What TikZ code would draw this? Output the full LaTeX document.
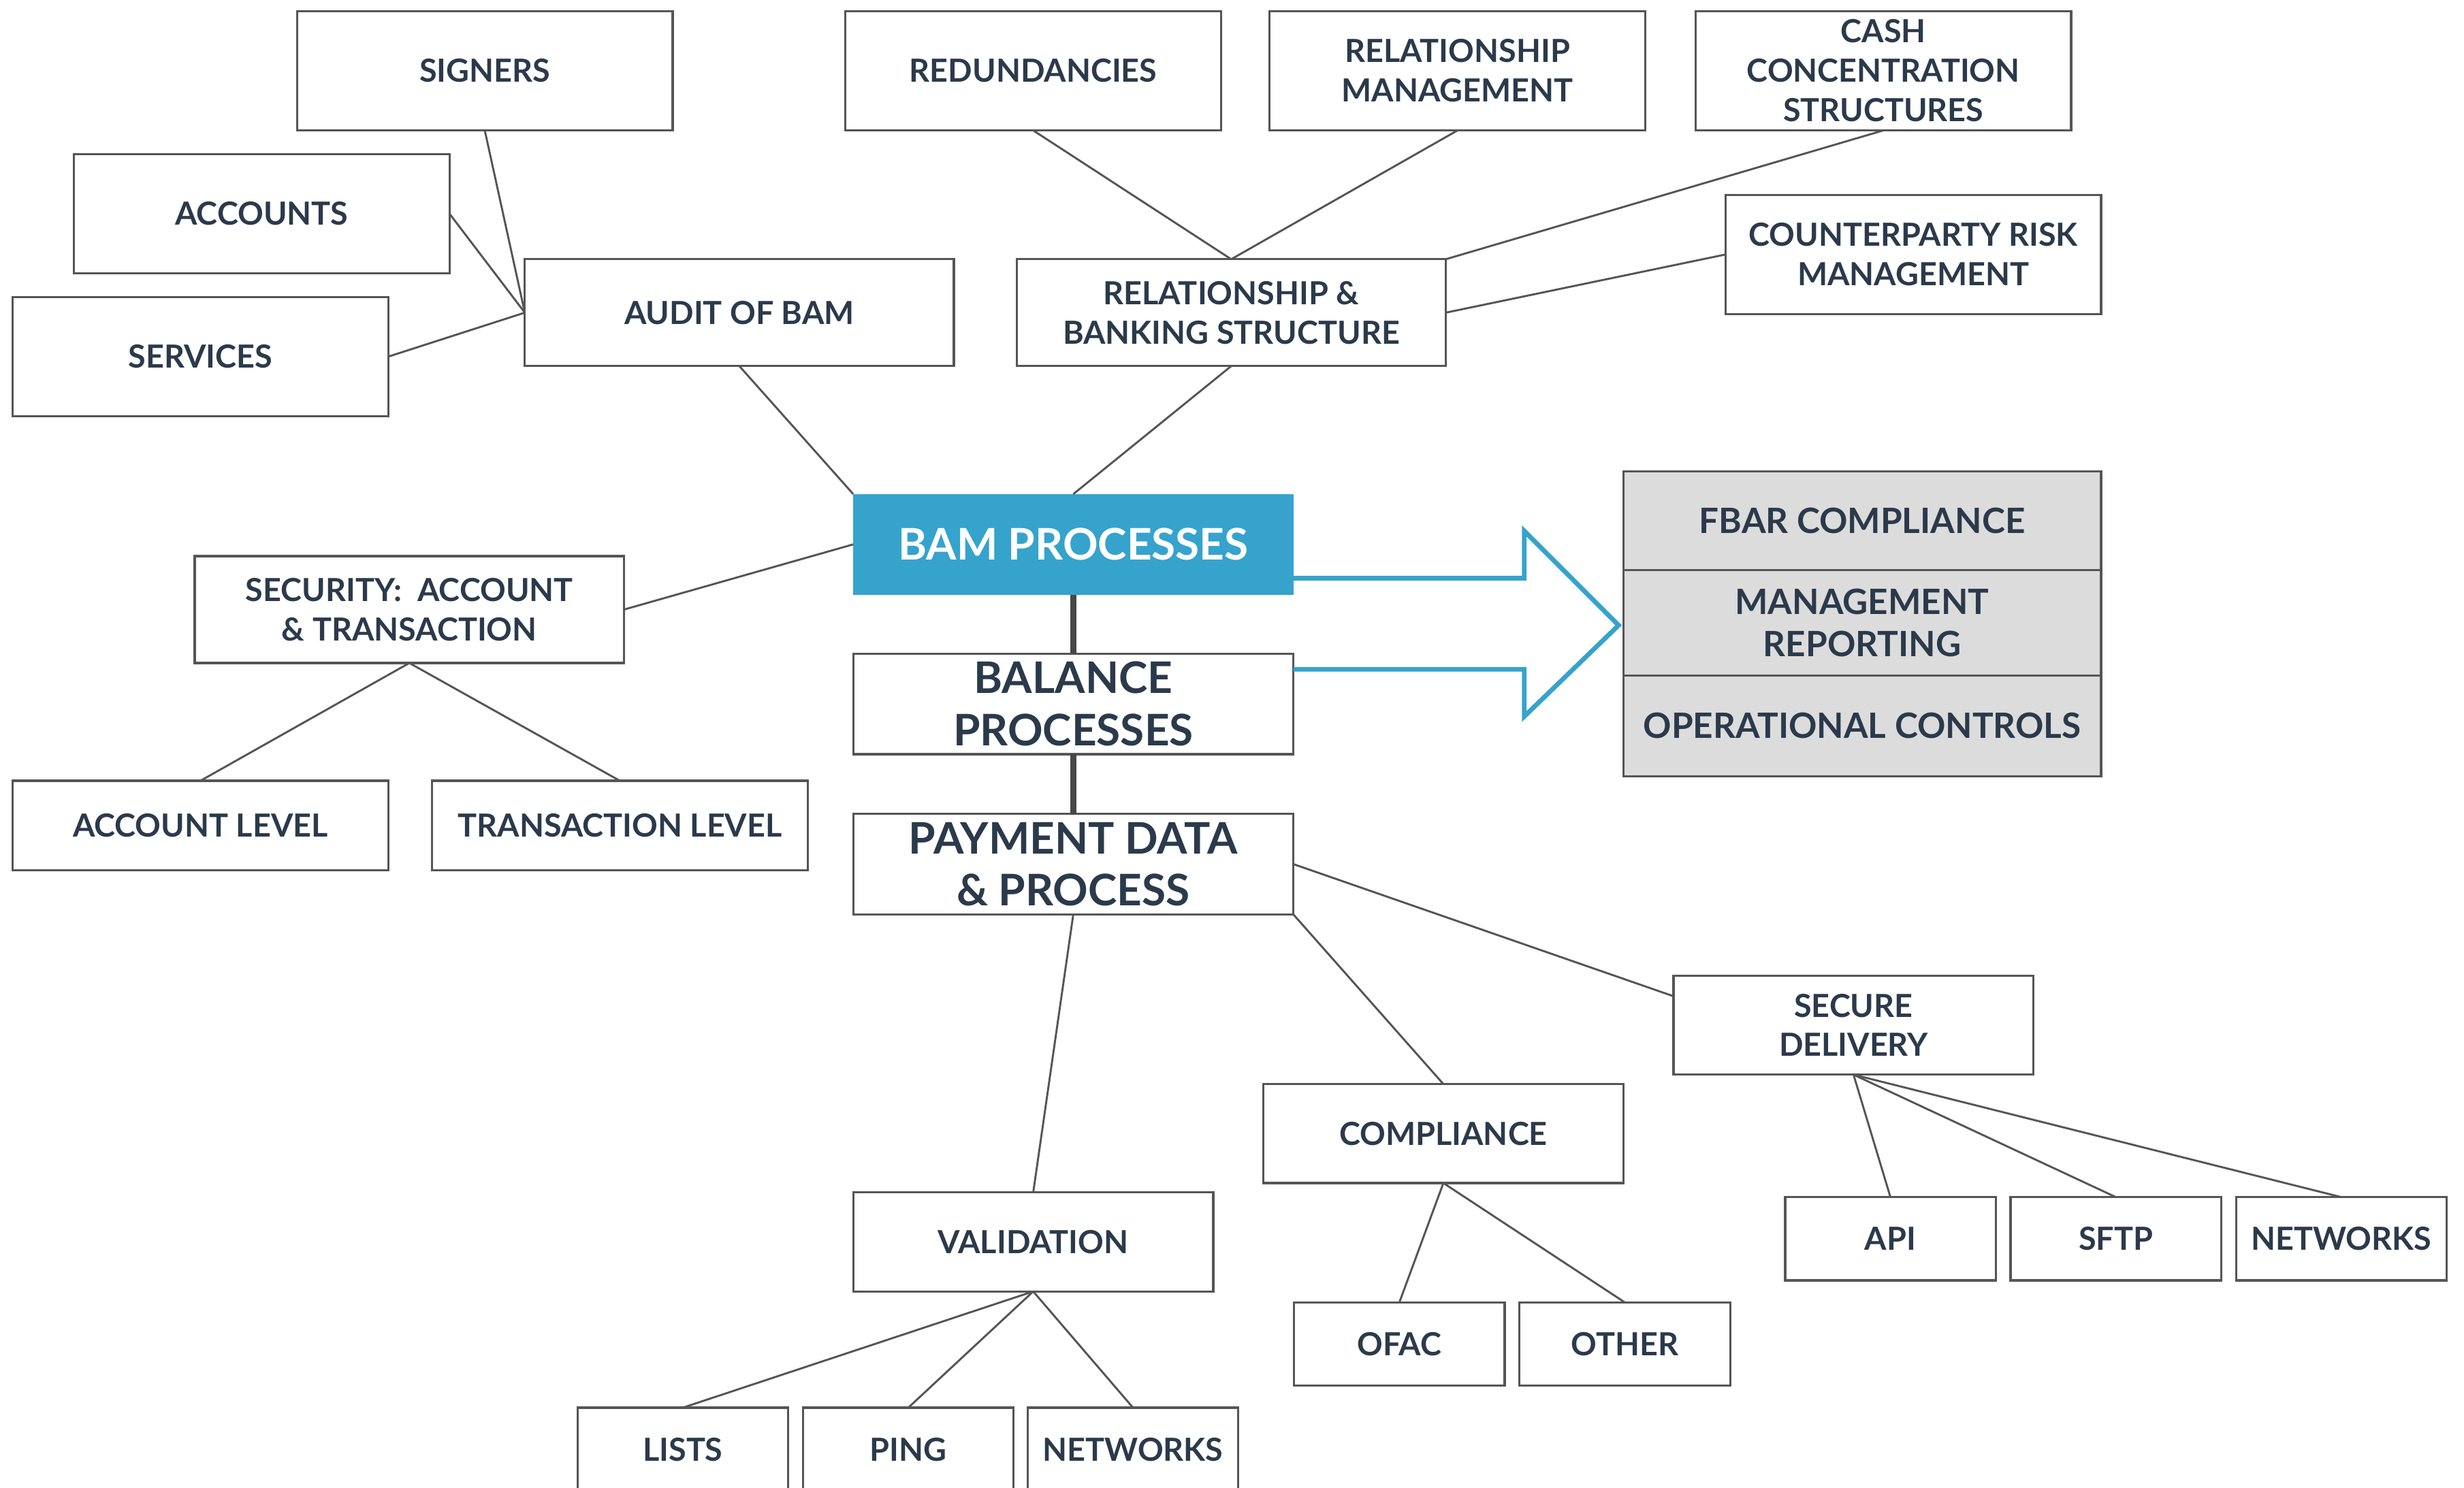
\documentclass[tikz,border=0pt]{standalone}
\usepackage{fontspec}
\setmainfont{Lato}
\definecolor{bamblue}{HTML}{36A3CC}
\definecolor{boxline}{HTML}{555555}
\definecolor{labelink}{HTML}{2B3A4B}
\definecolor{panelgray}{HTML}{DCDCDC}
\definecolor{stemgray}{HTML}{474747}
\begin{document}
\begin{tikzpicture}[x=0.025cm, y=-0.025cm,
	box/.style={draw=boxline, line width=1pt, fill=white, inner sep=0pt, outer sep=0pt,
		align=center, text=labelink, font=\bfseries\fontsize{14.4}{17.8}\selectfont},
	tall/.style={box, minimum width=5.975cm, minimum height=1.9cm},
	mid/.style={box, minimum width=6.825cm, minimum height=1.7cm},
	low/.style={box, minimum width=5.975cm, minimum height=1.425cm},
	core/.style={box, minimum width=7cm, minimum height=1.6cm, font=\bfseries\fontsize{19.7}{23.5}\selectfont},
	leaf/.style={box, minimum width=5.725cm, minimum height=1.575cm},
	small/.style={box, minimum width=3.35cm, minimum height=1.325cm},
	panel/.style={box, fill=panelgray, minimum width=7.6cm, font=\bfseries\fontsize{15.8}{19.2}\selectfont},
	link/.style={draw=boxline, line width=0.9pt},
	stem/.style={draw=stemgray, line width=2.8pt}]
	\useasboundingbox (0,0) rectangle (1568,946.7);
	\clip (0,0) rectangle (1568,946.7);

	\node [tall] (signers) at (308.5,45) {SIGNERS};
	\node [tall] (redund) at (657.5,45) {REDUNDANCIES};
	\node [tall] (relmgmt) at (927.5,45) {RELATIONSHIP\\MANAGEMENT};
	\node [tall] (cash) at (1198.5,45) {CASH\\CONCENTRATION\\STRUCTURES};
	\node [tall] (accounts) at (166.5,136) {ACCOUNTS};
	\node [tall] (services) at (127.5,227) {SERVICES};
	\node [tall] (counter) at (1217.5,162) {COUNTERPARTY RISK\\MANAGEMENT};
	\node [mid] (audit) at (470.5,199) {AUDIT OF BAM};
	\node [mid] (banking) at (783.5,199) {RELATIONSHIP \&\\BANKING STRUCTURE};
	\node [mid] (security) at (260.5,388) {SECURITY:\ \ ACCOUNT\\\& TRANSACTION};
	\node [low] (acclevel) at (127.5,525.5) {ACCOUNT LEVEL};
	\node [low] (txlevel) at (394.5,525.5) {TRANSACTION LEVEL};

	\node [core, draw=none, fill=bamblue, text=white] (bam) at (683,346.5) {BAM PROCESSES};
	\node [core] (balance) at (683,448) {BALANCE\\PROCESSES};
	\node [core] (payment) at (683,550) {PAYMENT DATA\\\& PROCESS};

	\node [panel, minimum height=1.575cm] (fbar) at (1185,331.5) {FBAR COMPLIANCE};
	\node [panel, minimum height=1.675cm] (mgmt) at (1185,396.5) {MANAGEMENT\\REPORTING};
	\node [panel, minimum height=1.6cm] (opctl) at (1185,462) {OPERATIONAL CONTROLS};

	\node [leaf] (secure) at (1179.5,652.5) {SECURE\\DELIVERY};
	\node [leaf] (compliance) at (918.5,721.5) {COMPLIANCE};
	\node [leaf] (validation) at (657.5,790.5) {VALIDATION};
	\node [small] (api) at (1203,788.5) {API};
	\node [small] (sftp) at (1346.5,788.5) {SFTP};
	\node [small] (netsec) at (1490,788.5) {NETWORKS};
	\node [small] (ofac) at (890.5,855.5) {OFAC};
	\node [small] (other) at (1034,855.5) {OTHER};
	\node [small] (lists) at (434.5,922.5) {LISTS};
	\node [small] (ping) at (578,922.5) {PING};
	\node [small] (netval) at (721,922.5) {NETWORKS};

	\draw [link] (signers.south) -- (audit.west);
	\draw [link] (accounts.east) -- (audit.west);
	\draw [link] (services.east) -- (audit.west);
	\draw [link] (audit.south) -- (bam.north west);
	\draw [link] (redund.south) -- (banking.north);
	\draw [link] (relmgmt.south) -- (banking.north);
	\draw [link] (cash.south) -- (banking.north east);
	\draw [link] (counter.west) -- (banking.east);
	\draw [link] (banking.south) -- (bam.north);
	\draw [link] (bam.west) -- (security.east);
	\draw [link] (security.south) -- (acclevel.north);
	\draw [link] (security.south) -- (txlevel.north);
	\draw [stem] (bam.south) -- (balance.north);
	\draw [stem] (balance.south) -- (payment.north);
	\draw [link] (payment.east) -- ([yshift=0.46cm]secure.west);
	\draw [link] (payment.south east) -- (compliance.north);
	\draw [link] (payment.south) -- (validation.north);
	\draw [link] (secure.south) -- (api.north);
	\draw [link] (secure.south) -- (sftp.north);
	\draw [link] (secure.south) -- (netsec.north);
	\draw [link] (compliance.south) -- (ofac.north);
	\draw [link] (compliance.south) -- (other.north);
	\draw [link] (validation.south) -- (lists.north);
	\draw [link] (validation.south) -- (ping.north);
	\draw [link] (validation.south) -- (netval.north);

	\draw [bamblue, line width=2.1pt, miter limit=10] (bam.east |- 0,368) -- (970,368) -- (970,338) --
		(1030,398) -- (970,456) -- (970,426) -- (balance.east |- 0,426);
\end{tikzpicture}
\end{document}
